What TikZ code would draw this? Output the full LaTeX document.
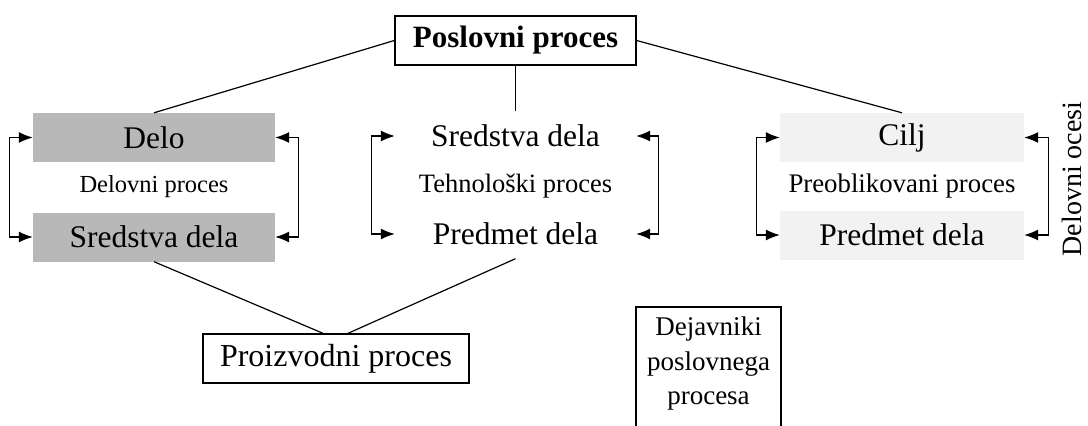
\documentclass[tikz,border=0pt]{standalone}
\usepackage{fontspec}
\setmainfont{Liberation Serif}
\usetikzlibrary{arrows.meta}
\tikzset{
  big/.style={font=\fontsize{31.5}{36}\selectfont},
  cell/.style={big, inner sep=0pt, minimum height=49pt, minimum width=242pt},
  shaded/.style={cell, fill=black!28},
  faint/.style={cell, fill=black!5},
  plain/.style={cell},
  frame/.style={draw, line width=1.4pt, inner sep=0pt},
  conn/.style={line width=1.2pt},
  loop/.style={line width=1.2pt, {Latex[length=14pt,width=11pt]}-{Latex[length=14pt,width=11pt]}},
}
\begin{document}
\begin{tikzpicture}[x=1pt,y=-1pt]
\useasboundingbox (0,0) rectangle (1088,426);
\clip (0,0) rectangle (1088,426);
% top box
\node[frame, minimum width=241pt, minimum height=49pt, font=\fontsize{31}{36}\selectfont\bfseries] (pp) at (515.5,40.5) {Poslovni proces};
% left group
\node[shaded] (delo) at (154,137.5) {Delo};
\node[font=\fontsize{24.5}{28}\selectfont] (delproc) at (154,187) {Delovni proces};
\node[shaded] (lsred) at (154,237) {Sredstva dela};
% middle group
\node[plain, minimum width=241pt] (msred) at (515.5,136) {Sredstva dela};
\node[font=\fontsize{26.5}{30}\selectfont] (teh) at (515.5,186) {Tehnološki proces};
\node[plain, minimum width=241pt] (mpred) at (515.5,234) {Predmet dela};
% right group
\node[faint, minimum width=244pt] (cilj) at (902,137.5) {Cilj};
\node[font=\fontsize{26.8}{30}\selectfont] (preob) at (902,186) {Preoblikovani proces};
\node[faint, minimum width=244pt] (rpred) at (902,235) {Predmet dela};
% side label
\node[rotate=90, font=\fontsize{28}{32}\selectfont] (delocesi) at (1072,179) {Delovni ocesi};
% bottom box
\node[frame, minimum width=266pt, minimum height=49pt, font=\fontsize{32}{36}\selectfont] (proiz) at (336,358.5) {Proizvodni proces};
% dejavniki
\node[align=center, font=\fontsize{27}{34.5}\selectfont, inner sep=0pt] (dej) at (708.5,364) {Dejavniki\\poslovnega\\procesa};
\draw[line width=1.4pt] (636,440) |- (781,307) -- (781,440);
% connectors
\draw[conn] (pp.west) -- (delo.north);
\draw[conn] (pp.east) -- (cilj.north);
\draw[conn] (pp.south) -- (msred.north);
\draw[conn] (lsred.south) -- ([xshift=-13pt]proiz.north);
\draw[conn] (mpred.south) -- ([xshift=12pt]proiz.north);
% loops
\draw[loop] (delo.west) -- ++(-23,0) |- (lsred.west);
\draw[loop] (delo.east) -- ++(23,0) |- (lsred.east);
\draw[loop] (msred.west) -- ++(-23,0) |- (mpred.west);
\draw[loop] (msred.east) -- ++(22,0) |- (mpred.east);
\draw[loop] (cilj.west) -- ++(-23,0) |- (rpred.west);
\draw[loop] (cilj.east) -- ++(24,0) |- (rpred.east);
\end{tikzpicture}
\end{document}
